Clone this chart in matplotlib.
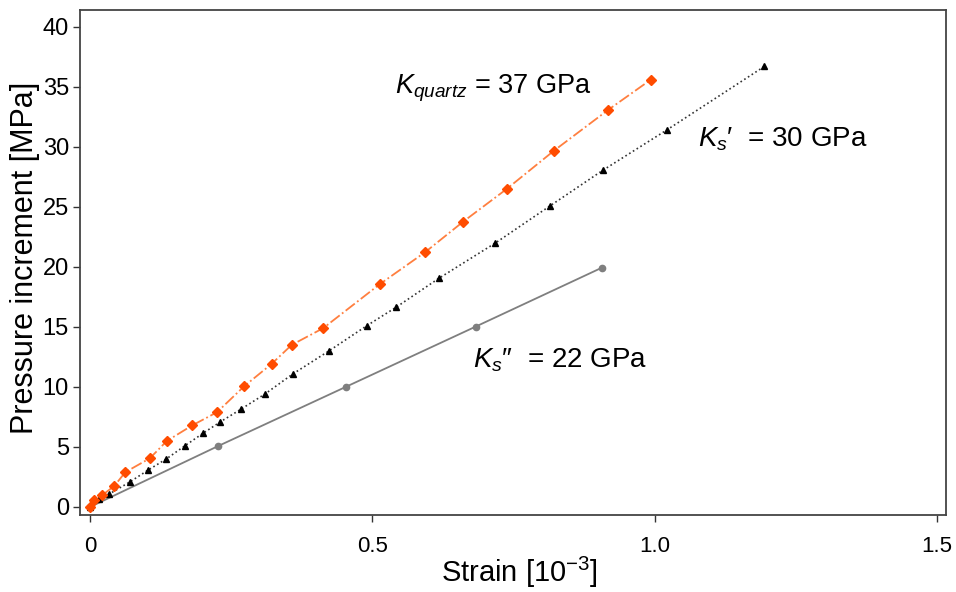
import matplotlib
matplotlib.use("Agg")
import matplotlib.pyplot as plt

plt.rcParams["font.family"] = ["Liberation Sans", "DejaVu Sans"]
plt.rcParams["mathtext.fontset"] = "custom"
plt.rcParams["mathtext.rm"] = "Liberation Sans"
plt.rcParams["mathtext.it"] = "Liberation Sans:italic"

# quartz reference
strain_q = [0, 0.0076, 0.022, 0.043, 0.0625, 0.106, 0.136, 0.181, 0.225, 0.273,
            0.322, 0.357, 0.413, 0.513, 0.594, 0.661, 0.738, 0.822, 0.918, 0.993]
press_q = [0, 0.58, 1.0, 1.75, 2.9, 4.06, 5.5, 6.8, 7.9, 10.06,
           11.94, 13.5, 14.9, 18.56, 21.25, 23.78, 26.5, 29.7, 33.1, 35.6]

# Ks'
strain_s1 = [0, 0.0165, 0.034, 0.071, 0.103, 0.135, 0.168, 0.2, 0.231, 0.267,
             0.31, 0.359, 0.424, 0.49, 0.542, 0.618, 0.718, 0.815, 0.908, 1.021, 1.194]
press_s1 = [0, 0.64, 1.08, 2.1, 3.08, 4.0, 5.1, 6.14, 7.1, 8.14,
            9.42, 11.08, 13.03, 15.1, 16.64, 19.06, 22.0, 25.1, 28.05, 31.4, 36.7]

# Ks''
strain_s2 = [0, 0.227, 0.454, 0.683, 0.907]
press_s2 = [0, 5.08, 10.03, 15.03, 19.95]

xticks = [0, 0.5, 1.0, 1.5]
xlabels = ["0", "0.5", "1.0", "1.5"]
yticks = [0, 5, 10, 15, 20, 25, 30, 35, 40]

fig = plt.figure(figsize=(9.56, 5.92), dpi=100)
ax = fig.add_axes([0.0837, 0.130, 0.906, 0.853])

ax.plot(strain_s2, press_s2, "-", color="#7f7f7f", lw=1.3,
        marker="o", ms=4.5, mfc="#7f7f7f", mec="#7f7f7f")
ax.plot(strain_s1, press_s1, ":", color="#333333", lw=1.2,
        marker="^", ms=5, mfc="black", mec="black")
ax.plot(strain_q, press_q, "-.", color="#ff7f3f", lw=1.3,
        marker="D", ms=5.5, mfc="#ff4c00", mec="#ff4c00")

ax.text(0.54, 34.9, r"$\mathit{K}_{\mathit{quartz}}$ = 37 GPa", fontsize=19.5, va="center")
ax.text(1.077, 30.6, r"$\mathit{K}_{\mathit{s}}$" + "\u2032  = 30 GPa", fontsize=20, va="center")
ax.text(0.678, 12.25, r"$\mathit{K}_{\mathit{s}}$" + "\u2033  = 22 GPa", fontsize=20, va="center")

ax.set_xlim(-0.0177, 1.516)
ax.set_ylim(-0.67, 41.4)
ax.set_xticks(xticks)
ax.set_xticklabels(xlabels)
ax.set_yticks(yticks)
ax.tick_params(axis="both", direction="out", length=5, width=1, color="#333333")
ax.tick_params(axis="y", labelsize=17, pad=3)
ax.tick_params(axis="x", labelsize=16, pad=10)

ax.set_xlabel(r"Strain [10$^{\mathregular{-3}}$]", fontsize=21)
ax.set_ylabel("Pressure increment [MPa]", fontsize=22)
ax.xaxis.set_label_coords(0.507, -0.078)
ax.yaxis.set_label_coords(-0.046, 0.51)

for s in ax.spines.values():
    s.set_color("#444444")
    s.set_linewidth(1.3)

fig.savefig("out.png", dpi=100)
